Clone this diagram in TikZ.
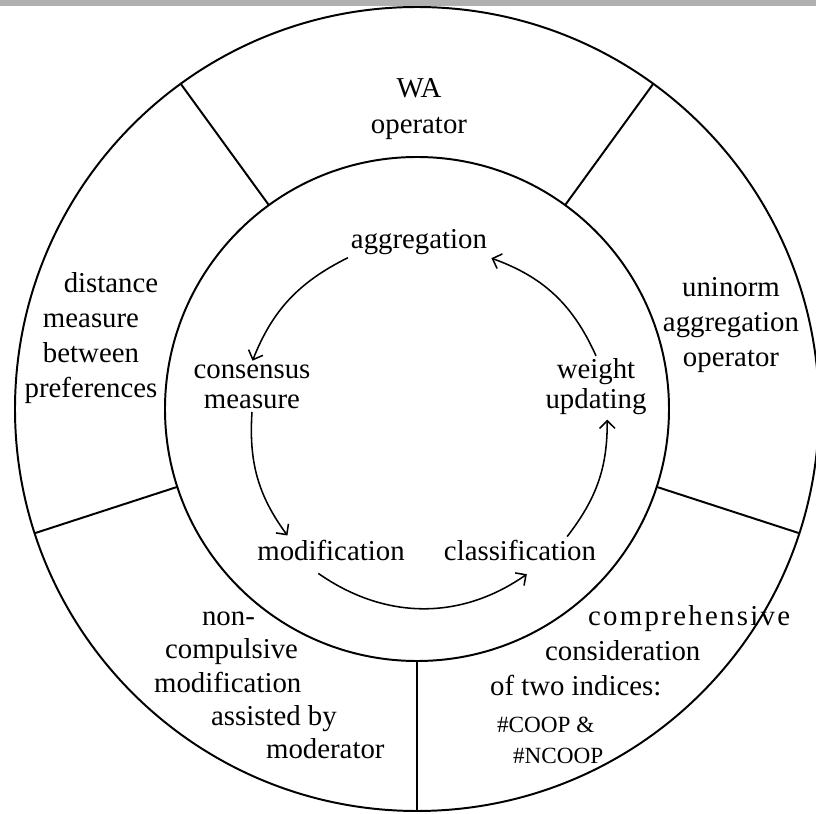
\documentclass[tikz,border=0pt]{standalone}
\usepackage{fontspec}
\setmainfont{Liberation Serif}
\usepackage{tikz}
\usetikzlibrary{arrows.meta}
\definecolor{topbar}{HTML}{B0B0B0}
\tikzset{
	>={Straight Barb[length=5.5pt,width=11pt]},
	ring/.style = {line width=1.4pt},
	sector/.style = {
			inner sep = 2pt,
			font      = \fontsize{20.5}{25}\selectfont,
		},
	stage/.style = {
			inner sep = 2pt,
			align     = center,
			font      = \fontsize{20.5}{21.3}\selectfont,
		},
	flow/.style = {->, line width=1.1pt, shorten >=1pt},
}
\begin{document}
\begin{tikzpicture}
	\useasboundingbox (-10.425,-10.125) rectangle (9.975,10.225);
	\clip (-10.425,-10.125) rectangle (9.975,10.225);
	\fill[topbar] (-10.425,10.075) rectangle (9.975,10.225);

	\draw[ring] (0,0) circle (10.05);
	\draw[ring] (0,0) circle (6.3);
	\foreach \a in {126,54,-18,-90,198} {
		\draw[ring] (\a:6.3) -- (\a:10.05);
	}

	\node[sector,align=center] (WA) at (0.05,7.5) {WA\\operator};
	\node[sector,align=center] (unin) at (7.85,2.1) {uninorm\\aggregation\\operator};
	\node[sector,align=center] (dist) at (-8.15,1.775) {\hspace*{1cm}distance\\measure\\between\\preferences};
	\node[sector,align=left,anchor=west] (compr) at (1.75,-6.05) {\hspace*{2.45cm}{\addfontfeatures{LetterSpace=8}comprehensive}\\\hspace*{1.375cm}consideration\\of two indices:};
	\node[sector,align=left,anchor=west,font=\fontsize{16.5}{22}\selectfont] (coop) at (1.925,-8.275) {\#COOP \&\\\hspace*{.4cm}\#NCOOP};
	\node[sector,align=left,anchor=west,font=\fontsize{20.5}{23.6}\selectfont] (noncomp) at (-6.65,-6.91) {\hspace*{1.2cm}non-\\\hspace*{.275cm}compulsive\\modification\\\hspace*{1.425cm}assisted by\\\hspace*{2.8cm}moderator};

	\node[stage] (agg) at (0.05,4.175) {aggregation};
	\node[stage] (cons) at (-4.125,0.55) {consensus\\measure};
	\node[stage] (wu) at (4.475,0.55) {weight\\updating};
	\node[stage] (modif) at (-2.15,-3.525) {modification};
	\node[stage] (classif) at (2.575,-3.525) {classification};

	\draw[flow] (agg.south west) to[bend right=21] (cons.north);
	\draw[flow] (cons.south) to[bend right=20] ([xshift=.85cm]modif.north west);
	\draw[flow] ([shift={(1.6,-.25)}]modif.south west) to[bend right=35] ([shift={(.2,-.25)}]classif.south);
	\draw[flow] ([xshift=-.8cm]classif.north east) to[bend right=19] ([xshift=.28cm]wu.south);
	\draw[flow] (wu.north) to[bend right=23] (agg.south east);
\end{tikzpicture}
\end{document}
